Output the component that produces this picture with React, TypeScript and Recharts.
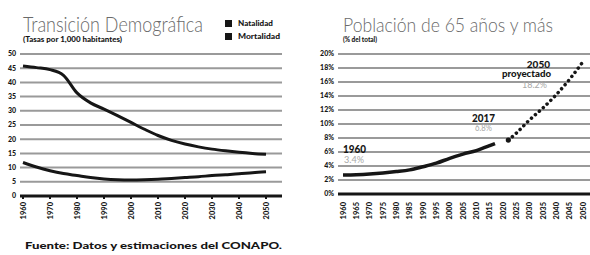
import { LineChart, Line, XAxis, YAxis, CartesianGrid } from 'recharts';

// Transición demográfica (tasas por 1,000 habitantes)
const YEARS = [1960, 1965, 1970, 1975, 1980, 1985, 1990, 1995, 2000, 2005, 2010, 2015, 2020, 2025, 2030, 2035, 2040, 2045, 2050];
const NATALIDAD = [45.8, 45.2, 44.5, 42.5, 36.3, 32.8, 30.6, 28.3, 25.9, 23.5, 21.3, 19.6, 18.3, 17.3, 16.5, 15.9, 15.4, 15.0, 14.7];
const MORTALIDAD = [11.8, 10.2, 8.9, 7.9, 7.2, 6.5, 6.0, 5.7, 5.6, 5.7, 5.9, 6.2, 6.5, 6.8, 7.2, 7.5, 7.8, 8.2, 8.5];
const DECADE_TICKS = [1960, 1970, 1980, 1990, 2000, 2010, 2020, 2030, 2040, 2050];
const TASA_TICKS = [0, 5, 10, 15, 20, 25, 30, 35, 40, 45, 50];

// Población de 65 años y más (% del total)
const POB_YEARS = [1960, 1965, 1970, 1975, 1980, 1985, 1990, 1995, 2000, 2005, 2010, 2015, 2017];
const POB_65 = [2.7, 2.75, 2.85, 3.0, 3.2, 3.45, 3.9, 4.4, 5.1, 5.7, 6.2, 6.9, 7.2];
const PROY_YEARS = [2022, 2025, 2030, 2035, 2040, 2045, 2050];
const PROY_65 = [7.7, 8.7, 10.6, 12.3, 14.2, 16.4, 18.9];
const QUINQ_TICKS = [1960, 1965, 1970, 1975, 1980, 1985, 1990, 1995, 2000, 2005, 2010, 2015, 2020, 2025, 2030, 2035, 2040, 2045, 2050];
const PCT_TICKS = [0, 2, 4, 6, 8, 10, 12, 14, 16, 18, 20];

const tasas = YEARS.map((year, i) => ({ year, natalidad: NATALIDAD[i], mortalidad: MORTALIDAD[i] }));
const observado = POB_YEARS.map((year, i) => ({ year, pct: POB_65[i] }));
const proyectado = PROY_YEARS.map((year, i) => ({ year, pct: PROY_65[i] }));

const FONT = 'Lato, "Open Sans", sans-serif';
const INK = '#161616';
const GRID = '#9a9a9a';

const tickStyle = { fontSize: 7, fontWeight: 900, fill: INK, fontFamily: FONT };

function RotTick({ x, y, payload }: any) {
  return (
    <text
      x={x}
      y={y}
      dy="0.35em"
      transform={`rotate(-90 ${x} ${y})`}
      textAnchor="end"
      fontSize={7.5}
      fontWeight={900}
      fill={INK}
      fontFamily={FONT}
    >
      {payload.value}
    </text>
  );
}

function StartDot(props: any) {
  if (props.index !== 0) return <g key={props.index} />;
  return <circle key={props.index} cx={props.cx} cy={props.cy} r={2.6} fill={INK} />;
}

export default function App() {
  return (
    <div style={{ position: 'absolute', left: 0, top: 0, width: 590, height: 255, background: '#fff', overflow: 'hidden' }}>
      <div style={{ position: 'absolute', left: 0, top: 0 }}>
        <LineChart width={290} height={255} data={tasas} margin={{ top: 54, right: 8, bottom: 29, left: 0 }}>
          <CartesianGrid vertical={false} stroke={GRID} strokeWidth={2} />
          <XAxis
            dataKey="year"
            type="number"
            domain={[1960, 2050]}
            ticks={DECADE_TICKS}
            height={30}
            padding={{ left: 3, right: 16 }}
            axisLine={{ stroke: INK, strokeWidth: 3 }}
            tickLine={{ stroke: INK, strokeWidth: 2 }}
            tickSize={3}
            tickMargin={3}
            tick={<RotTick />}
            interval={0}
          />
          <YAxis
            width={20}
            domain={[0, 50]}
            ticks={TASA_TICKS}
            axisLine={false}
            tickLine={false}
            tickSize={0}
            tickMargin={4}
            tick={tickStyle}
            interval={0}
          />
          <Line dataKey="natalidad" type="monotone" stroke={INK} strokeWidth={3} dot={false} isAnimationActive={false} />
          <Line dataKey="mortalidad" type="monotone" stroke={INK} strokeWidth={3} dot={false} isAnimationActive={false} />
        </LineChart>
      </div>

      <div style={{ position: 'absolute', left: 300, top: 0 }}>
        <LineChart width={290} height={255} margin={{ top: 54, right: 0, bottom: 31, left: 0 }}>
          <CartesianGrid vertical={false} stroke={GRID} strokeWidth={2} />
          <XAxis
            dataKey="year"
            type="number"
            domain={[1960, 2050]}
            ticks={QUINQ_TICKS}
            height={30}
            padding={{ left: 5, right: 7 }}
            axisLine={{ stroke: INK, strokeWidth: 3 }}
            tickLine={false}
            tickSize={3}
            tickMargin={5}
            tick={<RotTick />}
            interval={0}
            allowDuplicatedCategory={false}
          />
          <YAxis
            width={38}
            domain={[0, 20]}
            ticks={PCT_TICKS}
            tickFormatter={(v) => `${v}%`}
            axisLine={false}
            tickLine={false}
            tickSize={0}
            tickMargin={4}
            tick={tickStyle}
            interval={0}
          />
          <Line data={observado} dataKey="pct" type="monotone" stroke={INK} strokeWidth={3.5} dot={false} isAnimationActive={false} />
          <Line
            data={proyectado}
            dataKey="pct"
            type="monotone"
            stroke={INK}
            strokeWidth={3.5}
            strokeDasharray="0.1 5.2"
            strokeLinecap="round"
            dot={StartDot}
            isAnimationActive={false}
          />
        </LineChart>
      </div>

      <svg width={590} height={255} style={{ position: 'absolute', left: 0, top: 0, pointerEvents: 'none' }}>
        <g fontFamily={FONT}>
          <text x={23} y={32} fontSize={21} fontWeight={300} fill="#6a6a6a" textLength={180} lengthAdjust="spacingAndGlyphs">
            Transición Demográfica
          </text>
          <text x={23} y={41.5} fontSize={6.5} fontWeight={900} fill={INK} textLength={99} lengthAdjust="spacingAndGlyphs">
            (Tasas por 1,000 habitantes)
          </text>
          <rect x={225} y={20} width={7} height={7} fill={INK} />
          <text x={238} y={26} fontSize={6.5} fontWeight={900} fill={INK} textLength={35} lengthAdjust="spacingAndGlyphs">
            Natalidad
          </text>
          <rect x={225} y={33} width={7} height={7} fill={INK} />
          <text x={238} y={39} fontSize={6.5} fontWeight={900} fill={INK} textLength={42} lengthAdjust="spacingAndGlyphs">
            Mortalidad
          </text>

          <text x={343} y={32} fontSize={20} fontWeight={300} fill="#6a6a6a" textLength={210} lengthAdjust="spacingAndGlyphs">
            Población de 65 años y más
          </text>
          <text x={343} y={41.5} fontSize={6.5} fontWeight={900} fill={INK} textLength={34} lengthAdjust="spacingAndGlyphs">
            (% del total)
          </text>

          <text x={343} y={153} fontSize={10.5} fontWeight={900} fill={INK} textLength={23} lengthAdjust="spacingAndGlyphs">1960</text>
          <text x={344} y={163} fontSize={9} fill="#a8a8a8" textLength={20} lengthAdjust="spacingAndGlyphs">3.4%</text>
          <text x={472} y={121.5} fontSize={10.5} fontWeight={900} fill={INK} textLength={23} lengthAdjust="spacingAndGlyphs">2017</text>
          <text x={475} y={131} fontSize={9} fill="#a8a8a8" textLength={17} lengthAdjust="spacingAndGlyphs">6.8%</text>
          <text x={550} y={67.5} textAnchor="end" fontSize={10} fontWeight={900} fill={INK}>2050</text>
          <text x={551} y={77} textAnchor="end" fontSize={9} fontWeight={900} fill={INK} textLength={49} lengthAdjust="spacingAndGlyphs">proyectado</text>
          <text x={547} y={88} textAnchor="end" fontSize={9} fill="#a8a8a8">18.2%</text>

          <text x={25} y={248.5} fontSize={9.5} fontWeight={900} fill={INK} textLength={257} lengthAdjust="spacingAndGlyphs">
            Fuente: Datos y estimaciones del CONAPO.
          </text>
        </g>
      </svg>
    </div>
  );
}
